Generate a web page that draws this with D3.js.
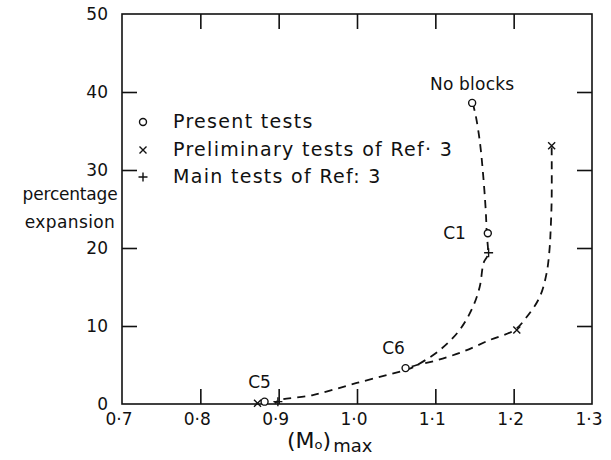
<!DOCTYPE html>
<html>
<head>
<meta charset="utf-8">
<script src="https://cdn.jsdelivr.net/npm/d3@7"></script>
<style>
  html, body { margin: 0; padding: 0; background: #fff; }
  svg text { font-family: "DejaVu Sans", "Liberation Sans", sans-serif; fill: #111; }
</style>
</head>
<body>
<svg id="chart" width="611" height="460"></svg>
<script>
// ---- data ----
const xTicks = [0.7, 0.8, 0.9, 1.0, 1.1, 1.2, 1.3];
const yTicks = [0, 10, 20, 30, 40, 50];
const xTickLabels = ["0·7", "0·8", "0·9", "1·0", "1·1", "1·2", "1·3"];
const yTickLabels = ["0", "10", "20", "30", "40", "50"];

// present tests (o)
const presentX = [0.882, 1.062, 1.167, 1.147];
const presentY = [0.3, 4.6, 21.9, 38.6];
const presentNames = ["C5", "C6", "C1", "No blocks"];
// preliminary tests of Ref 3 (x)
const prelimX = [0.873, 1.204, 1.2485];
const prelimY = [0.1, 9.5, 33.1];
// main tests of Ref 3 (+)
const mainX = [0.899, 1.168];
const mainY = [0.3, 19.4];

// dashed curve through present tests
const curve1X = [1.1477, 1.1515, 1.1566, 1.1605, 1.1643, 1.1656, 1.1668, 1.1617, 1.1566, 1.1477, 1.1311, 1.1056, 1.0712, 1.0635, 0.9997, 0.9436, 0.9015, 0.895];
const curve1Y = [38.6, 37.0, 33.8, 30.0, 24.9, 21.9, 19.1, 18.1, 15.0, 12.4, 9.5, 6.9, 4.7, 4.4, 2.7, 1.15, 0.5, 0.1];
// dashed curve through preliminary tests
const curve2X = [1.2485, 1.2485, 1.2472, 1.246, 1.2421, 1.2332, 1.2166, 1.2013, 1.1694, 1.1349, 1.1018, 1.0763, 1.0635];
const curve2Y = [32.9, 26.2, 22.3, 20.1, 16.8, 13.7, 11.15, 9.5, 8.2, 6.7, 5.6, 5.0, 4.6];

const legendLabels = ["Present tests", "Preliminary tests of Ref· 3", "Main tests of Ref: 3"];

// ---- drawing ----
const svg = d3.select("#chart");
const x = d3.scaleLinear().domain([0.7, 1.3]).range([122, 592]);
const y = d3.scaleLinear().domain([0, 50]).range([404, 14]);
const ink = "#111";

// frame
svg.append("rect")
  .attr("x", x(0.7)).attr("y", y(50))
  .attr("width", x(1.3) - x(0.7)).attr("height", y(0) - y(50))
  .attr("fill", "none").attr("stroke", ink).attr("stroke-width", 1.6);

const tickLen = 15;
const innerX = xTicks.filter(d => d > 0.7 && d < 1.3);
const innerY = yTicks.filter(d => d > 0 && d < 50);

function styleAxis(g) {
  g.select(".domain").remove();
  g.selectAll("line").attr("stroke", ink).attr("stroke-width", 1.6);
}
svg.append("g").attr("transform", `translate(0,${y(0)})`)
  .call(d3.axisBottom(x).tickValues(innerX).tickSizeInner(-tickLen).tickSizeOuter(0).tickFormat(""))
  .call(styleAxis);
svg.append("g").attr("transform", `translate(0,${y(50)})`)
  .call(d3.axisTop(x).tickValues(innerX).tickSizeInner(-tickLen).tickSizeOuter(0).tickFormat(""))
  .call(styleAxis);
svg.append("g").attr("transform", `translate(${x(0.7)},0)`)
  .call(d3.axisLeft(y).tickValues(innerY).tickSizeInner(-tickLen).tickSizeOuter(0).tickFormat(""))
  .call(styleAxis);
svg.append("g").attr("transform", `translate(${x(1.3)},0)`)
  .call(d3.axisRight(y).tickValues(innerY).tickSizeInner(-tickLen).tickSizeOuter(0).tickFormat(""))
  .call(styleAxis);

// tick labels
svg.append("g").selectAll("text").data(xTicks).join("text")
  .attr("x", d => x(d) - 3).attr("y", y(0) + 21)
  .attr("text-anchor", "middle").attr("font-size", 17)
  .text((d, i) => xTickLabels[i]);
svg.append("g").selectAll("text").data(yTicks).join("text")
  .attr("x", x(0.7) - 14).attr("y", d => y(d) + 6)
  .attr("text-anchor", "end").attr("font-size", 17)
  .text((d, i) => yTickLabels[i]);

// y axis title
svg.append("text").attr("x", 70).attr("y", 200).attr("text-anchor", "middle")
  .attr("font-size", 17).attr("letter-spacing", -0.2).text("percentage");
svg.append("text").attr("x", 70).attr("y", 228).attr("text-anchor", "middle")
  .attr("font-size", 17).attr("letter-spacing", 0.4).text("expansion");

// x axis title (Mo)max
const xt = svg.append("text").attr("x", 287).attr("y", 448);
xt.append("tspan").attr("font-size", 22).text("(M");
xt.append("tspan").attr("font-size", 13).attr("dy", 1).text("o");
xt.append("tspan").attr("font-size", 22).attr("dy", -1).text(")");
xt.append("tspan").attr("font-size", 18).attr("dy", 4).attr("dx", 2).text("max");

// curves
const line = d3.line().x(d => x(d[0])).y(d => y(d[1])).curve(d3.curveCatmullRom.alpha(0.5));
svg.append("path").datum(curve1X.map((v, i) => [v, curve1Y[i]]))
  .attr("d", line).attr("fill", "none").attr("stroke", ink)
  .attr("stroke-width", 1.8).attr("stroke-dasharray", "8,6");
svg.append("path").datum(curve2X.map((v, i) => [v, curve2Y[i]]))
  .attr("d", line).attr("fill", "none").attr("stroke", ink)
  .attr("stroke-width", 1.8).attr("stroke-dasharray", "8,6");

// markers
function drawCircle(g, cx, cy) {
  g.append("circle").attr("cx", cx).attr("cy", cy).attr("r", 3.5)
    .attr("fill", "#fff").attr("stroke", ink).attr("stroke-width", 1.4);
}
function drawX(g, cx, cy) {
  const s = 3.5;
  g.append("path").attr("d", `M${cx - s},${cy - s}L${cx + s},${cy + s}M${cx + s},${cy - s}L${cx - s},${cy + s}`)
    .attr("stroke", ink).attr("stroke-width", 1.4).attr("fill", "none");
}
function drawPlus(g, cx, cy) {
  const s = 4.5;
  g.append("path").attr("d", `M${cx - s},${cy}L${cx + s},${cy}M${cx},${cy - s}L${cx},${cy + s}`)
    .attr("stroke", ink).attr("stroke-width", 1.4).attr("fill", "none");
}
const mk = svg.append("g");
prelimX.forEach((v, i) => drawX(mk, x(v), y(prelimY[i])));
mainX.forEach((v, i) => drawPlus(mk, x(v), y(mainY[i])));
presentX.forEach((v, i) => drawCircle(mk, x(v), y(presentY[i])));

// point annotations
const ann = svg.append("g").attr("font-size", 17);
ann.append("text").attr("x", x(presentX[3])).attr("y", y(presentY[3]) - 13)
  .attr("text-anchor", "middle").attr("letter-spacing", 0.2).text(presentNames[3]);
ann.append("text").attr("x", x(presentX[2]) - 22).attr("y", y(presentY[2]) + 6)
  .attr("text-anchor", "end").text(presentNames[2]);
ann.append("text").attr("x", x(presentX[1]) - 12).attr("y", y(presentY[1]) - 14)
  .attr("text-anchor", "middle").text(presentNames[1]);
ann.append("text").attr("x", x(presentX[0]) - 5).attr("y", y(presentY[0]) - 14)
  .attr("text-anchor", "middle").text(presentNames[0]);

// legend
const lg = svg.append("g");
const legY = [122, 150, 177];
drawCircle(lg, 143, legY[0]);
drawX(lg, 143, legY[1]);
drawPlus(lg, 143, legY[2]);
lg.selectAll("text").data(legendLabels).join("text")
  .attr("x", 173).attr("y", (d, i) => legY[i] + 6)
  .attr("font-size", 19).attr("letter-spacing", 1.3)
  .text(d => d);
</script>
</body>
</html>
